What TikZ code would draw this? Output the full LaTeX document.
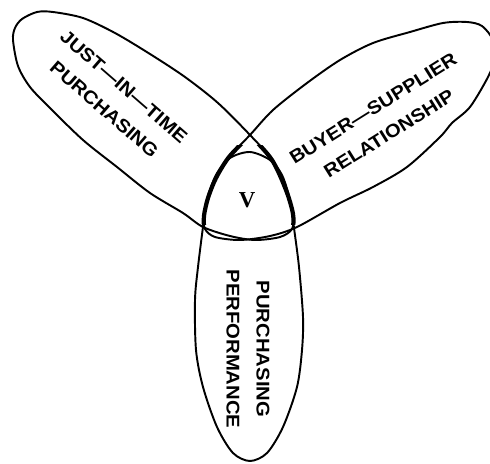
\documentclass[tikz,border=0pt]{standalone}
\usepackage{fontspec}
\newfontfamily\letterfont[FakeStretch=1.1]{Liberation Sans}
\newfontfamily\markfont{Liberation Serif}
\usetikzlibrary{positioning}
\tikzset{set/.style={draw,line width=1.1pt},core/.style={draw,line width=2.4pt},
  tag/.style={font=\letterfont\bfseries\fontsize{10.5}{17}\selectfont,align=center,inner sep=0pt}}
\newcommand{\jitoutline}{plot[smooth cycle] coordinates {(13,40) (15,28) (22,19) (37,12) (53,12)
  (83,18) (115,33) (150,54) (185,77) (218,103) (250,135) (272,160) (286,190) (293,214)
  (292,229) (280,237) (255,240) (230,236) (203,227) (183,213) (150,193) (117,167) (83,140)
  (50,108) (30,87) (18,66)}}
\newcommand{\bsroutline}{plot[smooth cycle] coordinates {(273,110) (307,83) (340,60) (373,43)
  (410,32) (443,23) (467,22) (482,26) (493,40) (495,58) (488,77) (470,107) (452,123) (440,137)
  (407,167) (373,187) (340,203) (297,227) (270,236) (240,240) (215,237) (205,229) (204,216)
  (208,198) (216,178) (229,157) (250,135)}}
\newcommand{\ppoutline}{plot[smooth cycle] coordinates {(250,152) (270,160) (282,175) (290,200)
  (294,228) (299,267) (303,317) (302,350) (297,387) (283,427) (267,453) (250,461) (233,453)
  (217,427) (203,387) (196,350) (195,300) (198,267) (203,227) (207,200) (216,175) (230,158)}}

\begin{document}
\begin{tikzpicture}[x=0.02cm,y=-0.02cm]
\useasboundingbox (0,0) rectangle (490,463);
% the three sets
\draw[set] \jitoutline;
\draw[set] \bsroutline;
\draw[set] \ppoutline;
% sides of the common part
\begin{scope}
\clip (0,145) rectangle (490,224);
\clip \bsroutline;
\draw[core] \jitoutline;
\end{scope}
\begin{scope}
\clip (0,145) rectangle (490,224);
\clip \jitoutline;
\draw[core] \bsroutline;
\end{scope}
\node[tag, rotate=-41] (jit) at (114,98) {JUST—IN—TIME\\PURCHASING};
\node[tag, rotate=32] (bsr) at (381,121) {BUYER—SUPPLIER\\RELATIONSHIP};
\node[tag, rotate=-90] (pp) at (248,349) {PURCHASING\\PERFORMANCE};
\node[font=\markfont\bfseries\fontsize{13}{13}\selectfont, inner sep=0pt] (v) at (247,200) {V};
\end{tikzpicture}
\end{document}
